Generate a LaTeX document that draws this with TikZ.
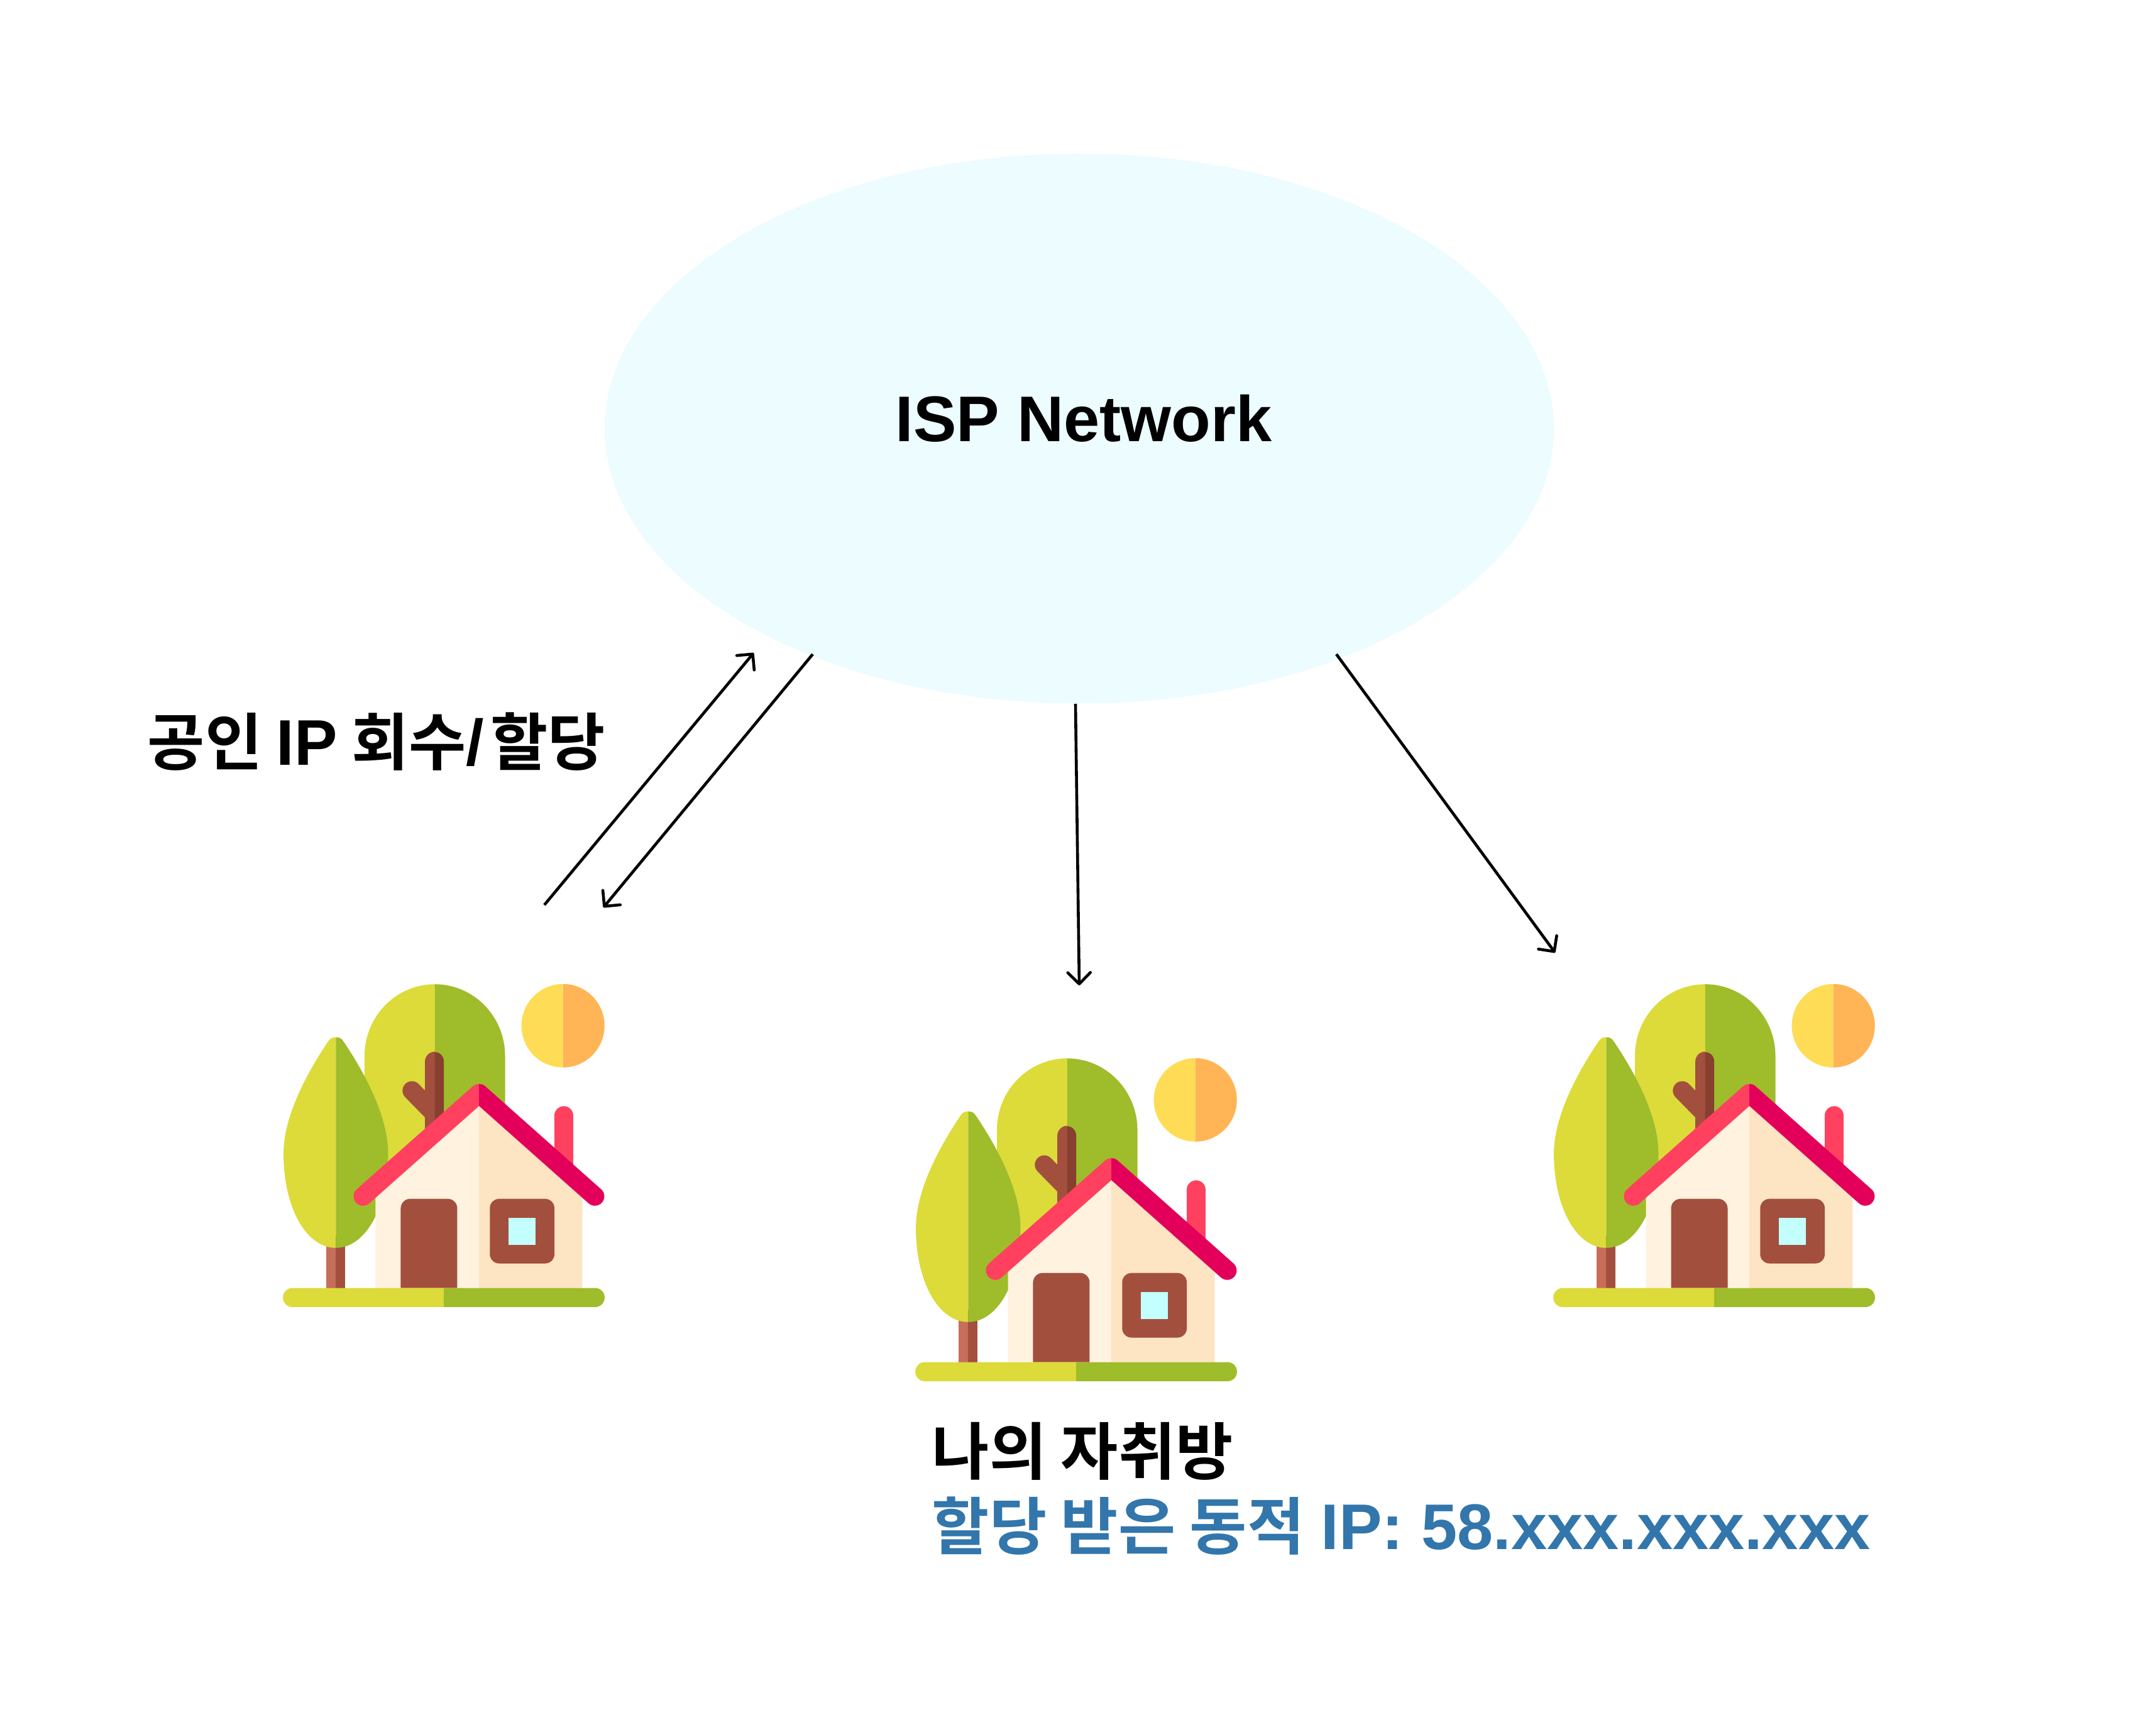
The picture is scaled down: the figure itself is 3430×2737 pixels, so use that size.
\documentclass[tikz,border=0pt]{standalone}
\usepackage{fontspec}
\newfontfamily\krbold{Noto Sans CJK KR Bold}
\newfontfamily\labold{Liberation Sans Bold}[Scale=1.035]
\usetikzlibrary{arrows.meta,shapes.geometric}
\definecolor{cloudc}{HTML}{ECFCFF}
\definecolor{lime}{HTML}{DCDB3A}
\definecolor{leaf}{HTML}{9FBC2B}
\definecolor{brownm}{HTML}{A34F3E}
\definecolor{brownd}{HTML}{873F2F}
\definecolor{brownl}{HTML}{C76E5B}
\definecolor{roofl}{HTML}{FF405F}
\definecolor{roofr}{HTML}{E3005A}
\definecolor{walll}{HTML}{FFF2DF}
\definecolor{wallr}{HTML}{FDE4C2}
\definecolor{glass}{HTML}{C4FFFF}
\definecolor{sunl}{HTML}{FFDC55}
\definecolor{sunr}{HTML}{FFB555}
\definecolor{ipblue}{HTML}{3276AB}
\tikzset{
  link/.style={draw=black,line width=1.15pt,-{Straight Barb[length=4.5pt,width=9pt,round]}},
  boldtext/.style={font=\krbold\fontsize{24.8}{28}\selectfont,inner sep=0pt,anchor=base west,text=black},
  thick7/.style={line width=7.5pt,line cap=round,line join=round}
}
\newcommand{\houseicon}[2]{%
\begin{scope}[shift={(#1,#2)},x=0.0892857pt,y=-0.0912pt]
 % big tree
 \fill[lime] (761,900) -- (448,900) -- (448,415) arc[start angle=180,end angle=270,radius=313] -- cycle;
 \fill[leaf] (761,900) -- (1074,900) -- (1074,415) arc[start angle=360,end angle=270,radius=313] -- cycle;
 \draw[brownm,thick7] (659,566) -- (760,667);
 \fill[brownm] (761,800) -- (717,800) -- (717,440) arc[start angle=180,end angle=270,radius=44] -- cycle;
 \fill[brownd] (761,800) -- (801,800) -- (801,438) arc[start angle=360,end angle=270,radius=40] -- cycle;
 % small tree
 \fill[brownl] (278,1200) rectangle (320,1427);
 \fill[brownm] (320,1200) rectangle (362,1427);
 \fill[lime] (320,333) .. controls (305,333) and (295,338) .. (287,350) .. controls (190,490) and (87,680) .. (87,840) .. controls (87,1080) and (190,1252) .. (320,1252) -- cycle;
 \fill[leaf] (320,333) .. controls (335,333) and (345,338) .. (353,350) .. controls (450,490) and (553,680) .. (553,840) .. controls (553,1080) and (450,1252) .. (320,1252) -- cycle;
 % sun
 \fill[sunl] (1332,101) arc[start angle=270,end angle=90,x radius=185,y radius=182] -- cycle;
 \fill[sunr] (1332,101) arc[start angle=270,end angle=450,x radius=185,y radius=182] -- cycle;
 % chimney
 \draw[roofl,thick7] (1336,675) -- (1336,900);
 % walls
 \fill[walll] (497,1427) -- (497,1000) -- (958,600) -- (958,1427) -- cycle;
 \fill[wallr] (1418,1427) -- (1418,1000) -- (958,600) -- (958,1427) -- cycle;
 % door and window
 \fill[brownm] (609,1427) -- (609,1080) arc[start angle=180,end angle=270,radius=42] -- (819,1038) arc[start angle=270,end angle=360,radius=42] -- (861,1427) -- cycle;
 \fill[brownm,rounded corners=3.75pt] (1006,1038) rectangle (1294,1320);
 \fill[glass] (1090,1120) rectangle (1210,1238);
 % roof
 \begin{scope}
  \clip (300,400) rectangle (958,1200);
  \draw[roofl,thick7] (441,1027) -- (958,578) -- (1474,1027);
 \end{scope}
 \begin{scope}
  \clip (958,400) rectangle (1600,1200);
  \draw[roofr,thick7] (441,1027) -- (958,578) -- (1474,1027);
 \end{scope}
 % ground
 \fill[lime] (801,1427) -- (126,1427) arc[start angle=270,end angle=90,radius=41.5] -- (801,1510) -- cycle;
 \fill[leaf] (801,1427) -- (1476,1427) arc[start angle=270,end angle=450,radius=41.5] -- (801,1510) -- cycle;
\end{scope}}
\begin{document}
\begin{tikzpicture}[x=0.25pt,y=-0.25pt]
 \useasboundingbox[fill=white] (0,0) rectangle (3430,2737);
 \node[ellipse,fill=cloudc,inner sep=0pt,minimum width=377.5pt,minimum height=218.75pt] (isp) at (1717,682) {};
 \node[boldtext,anchor=center] (isplabel) at (1724,666) {\labold ISP Network};
 \node[boldtext] (pub) at (234,1218) {공인 {\labold IP} 회수{\labold /}\kern2.4pt할당};
 \node[boldtext] (room) at (1482,2346) {나의 자취방};
 \node[boldtext,text=ipblue] (dyn) at (1482,2465) {할당 받은 동적 \kern1pt{\labold IP: 58.xxx.xxx.xxx}};
 \houseicon{420}{1529}
 \houseicon{1426}{1647}
 \houseicon{2441}{1529}
 \coordinate (upS) at (866,1440);
 \coordinate (upE) at (1199,1039);
 \coordinate (dnS) at (1293,1041);
 \coordinate (dnE) at (960,1444);
 \coordinate (midS) at (1711,1120);
 \coordinate (midE) at (1717,1568);
 \coordinate (rS) at (2126,1041);
 \coordinate (rE) at (2474,1516);
 \draw[link] (upS) -- (upE);
 \draw[link] (dnS) -- (dnE);
 \draw[link] (midS) -- (midE);
 \draw[link] (rS) -- (rE);
\end{tikzpicture}
\end{document}
